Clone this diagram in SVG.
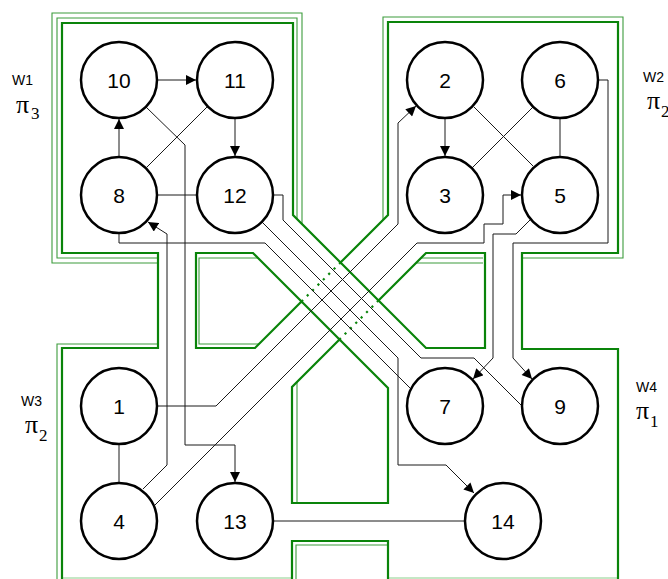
<svg xmlns="http://www.w3.org/2000/svg" width="668" height="579" viewBox="0 0 668 579">
<defs>
<style>
.wall{fill:none;stroke:#0a840a;stroke-width:2.2;stroke-linejoin:miter}
.thin{fill:none;stroke:#3c9c3c;stroke-width:1.1}
.light{fill:none;stroke:#8ccf8c;stroke-width:1.2}
.dot{fill:none;stroke:#0a840a;stroke-width:2.2;stroke-dasharray:2.2 5.4}
.node circle{fill:#fff;stroke:#000;stroke-width:2.5}
.node text{font-family:"Liberation Sans",Arial,sans-serif;font-size:21px;text-anchor:middle;fill:#000}
.edge{fill:none;stroke:#1a1a1a;stroke-width:1}
.arr{marker-end:url(#ah)}
.wl{font-family:"Liberation Sans",Arial,sans-serif;font-size:14px;fill:#000}
.pi{font-family:"Liberation Serif","Times New Roman",serif;font-size:26px;fill:#000}
.sub{font-family:"Liberation Serif","Times New Roman",serif;font-size:17px;fill:#000}
</style>
<marker id="ah" viewBox="0 0 10 10" refX="10" refY="5" markerWidth="11" markerHeight="10" markerUnits="userSpaceOnUse" orient="auto"><path d="M0,0 L10,5 L0,10 z" fill="#000"/></marker>
</defs>

<g id="walls">
<path class="thin" d="M297,219 V18 H57 V258 H158"/>
<path class="thin" d="M302,224 V13 H52 V263 H158"/>
<path class="thin" d="M158,344 H57 V579"/>
<path class="thin" d="M258,258 H199 V344 H259"/>
<path class="thin" d="M383,220 V17 H623 V258 H522"/>
<path class="thin" d="M421,258 H483"/>
<path class="thin" d="M416,263 H483"/>
<path class="thin" d="M297,382 V503"/>
<path class="thin" d="M296,579 V545 H388"/>
<path class="light" d="M62,578 H292 M388,578 H618"/>
<path class="wall" d="M62,579 V348 H158 V253 H62 V23 H293 V215 L426,348 H485 V253 H426 L378.5,300.5"/>
<path class="dot" d="M378.5,300.5 L339.5,339.5"/>
<path class="wall" d="M339.5,339.5 L292,387 V503 H388 V388 L253,253 H196 V348 H255 L301.5,301.5"/>
<path class="dot" d="M301.5,301.5 L340.5,262.5"/>
<path class="wall" d="M340.5,262.5 L388,215 V22 H618 V253 H522 V349 H618 V579"/>
<path class="wall" d="M292,579 V541 H388 V579"/>
</g>

<g id="connectors">
<path class="edge arr" d="M157,80 H196"/>
<path class="edge arr" d="M235,118 V156"/>
<path class="edge arr" d="M119,157 V119"/>
<path class="edge" d="M207,107 L147,167"/>
<path class="edge" d="M157,195 H197"/>
<path class="edge arr" d="M146,107 L185,145 V445 H235 V482"/>
<path class="edge arr" d="M143,489 L167,465 V234 L148,222"/>
<path class="edge arr" d="M157,406 H216 L398,224 V123 L416,106"/>
<path class="edge arr" d="M155,505 L417,243 H484 V224 H503 V195 H521"/>
<path class="edge arr" d="M530,220 L516,234 H493 V358 L473,379"/>
<path class="edge arr" d="M598,80 H608 V243 H513 V358 L532,379"/>
<path class="edge" d="M474,107 L533,166"/>
<path class="edge" d="M533,107 L472,168"/>
<path class="edge arr" d="M445,118 V156"/>
<path class="edge" d="M560,118 V157"/>
<path class="edge" d="M119,444 V483"/>
<path class="edge" d="M273,521 H465"/>
<path class="edge arr" d="M262,222 L398,358 V465 H446 L474,493"/>
<path class="edge" d="M273,195 H283 V220 L421,358 H474 L522,406"/>
<path class="edge" d="M119,233 V243 H265 L411,389"/>
</g>

<g id="n10" class="node"><circle cx="119" cy="80" r="38"/><text x="119" y="88">10</text></g>
<g id="n11" class="node"><circle cx="235" cy="80" r="38"/><text x="235" y="88">11</text></g>
<g id="n8" class="node"><circle cx="119" cy="195" r="38"/><text x="119" y="203">8</text></g>
<g id="n12" class="node"><circle cx="235" cy="195" r="38"/><text x="235" y="203">12</text></g>
<g id="n2" class="node"><circle cx="445" cy="80" r="38"/><text x="445" y="88">2</text></g>
<g id="n6" class="node"><circle cx="560" cy="80" r="38"/><text x="560" y="88">6</text></g>
<g id="n3" class="node"><circle cx="445" cy="195" r="38"/><text x="445" y="203">3</text></g>
<g id="n5" class="node"><circle cx="560" cy="195" r="38"/><text x="560" y="203">5</text></g>
<g id="n1" class="node"><circle cx="119" cy="406" r="38"/><text x="119" y="414">1</text></g>
<g id="n4" class="node"><circle cx="119" cy="521" r="38"/><text x="119" y="529">4</text></g>
<g id="n13" class="node"><circle cx="235" cy="521" r="38"/><text x="235" y="529">13</text></g>
<g id="n7" class="node"><circle cx="445" cy="406" r="38"/><text x="445" y="414">7</text></g>
<g id="n9" class="node"><circle cx="560" cy="406" r="38"/><text x="560" y="414">9</text></g>
<g id="n14" class="node"><circle cx="503" cy="521" r="38"/><text x="503" y="529">14</text></g>

<g id="labels">
<text class="wl" x="12" y="85">W1</text>
<text class="pi" x="16" y="113">π</text><text class="sub" x="31" y="119">3</text>
<text class="wl" x="643" y="82">W2</text>
<text class="pi" x="647" y="109">π</text><text class="sub" x="661" y="117">2</text>
<text class="wl" x="21" y="406">W3</text>
<text class="pi" x="25" y="433">π</text><text class="sub" x="39" y="441">2</text>
<text class="wl" x="636" y="392">W4</text>
<text class="pi" x="636" y="419">π</text><text class="sub" x="650" y="427">1</text>
</g>
</svg>
